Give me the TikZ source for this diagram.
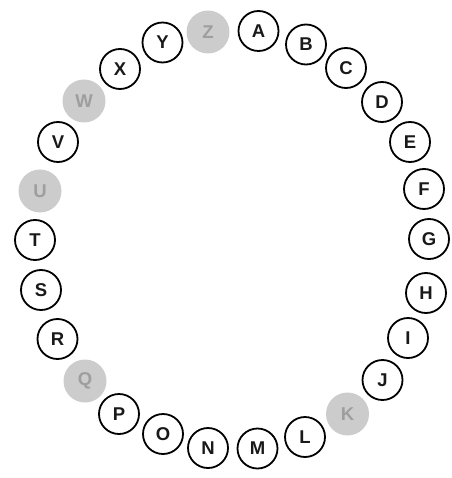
\documentclass[tikz,border=0pt]{standalone}
\usepackage{fontspec}
\setmainfont{Liberation Sans}
\begin{document}
\begin{tikzpicture}[x=1pt,y=-1pt,
  letter/.style={circle,draw=black,line width=1.8pt,minimum size=40pt,inner sep=0pt,font=\bfseries\fontsize{18.5}{18.5}\selectfont,text=black!90},
  faded/.style={circle,fill=black!20,minimum size=43pt,inner sep=0pt,font=\bfseries\fontsize{18.5}{18.5}\selectfont,text=black!38}]
\useasboundingbox (0,0) rectangle (451,478);
\node[letter] (A) at (258.5,31) {A};
\node[letter] (B) at (306,44.5) {B};
\node[letter] (C) at (346,68) {C};
\node[letter] (D) at (382,102) {D};
\node[letter] (E) at (410,142) {E};
\node[letter] (F) at (424,189) {F};
\node[letter] (G) at (429,239) {G};
\node[letter] (H) at (426,293) {H};
\node[letter] (I) at (408,338) {I};
\node[letter] (J) at (382.5,380) {J};
\node[faded] (K) at (347.5,414) {K};
\node[letter] (L) at (305,437) {L};
\node[letter] (M) at (257.5,448.5) {M};
\node[letter] (N) at (208,448) {N};
\node[letter] (O) at (163,434) {O};
\node[letter] (P) at (119,414) {P};
\node[faded] (Q) at (85,381) {Q};
\node[letter] (R) at (57.5,339) {R};
\node[letter] (S) at (41,290) {S};
\node[letter] (T) at (35,240) {T};
\node[faded] (U) at (40,191) {U};
\node[letter] (V) at (58,142) {V};
\node[faded] (W) at (84,101) {W};
\node[letter] (X) at (120,69) {X};
\node[letter] (Y) at (162.5,42.5) {Y};
\node[faded] (Z) at (208,32) {Z};
\end{tikzpicture}
\end{document}
